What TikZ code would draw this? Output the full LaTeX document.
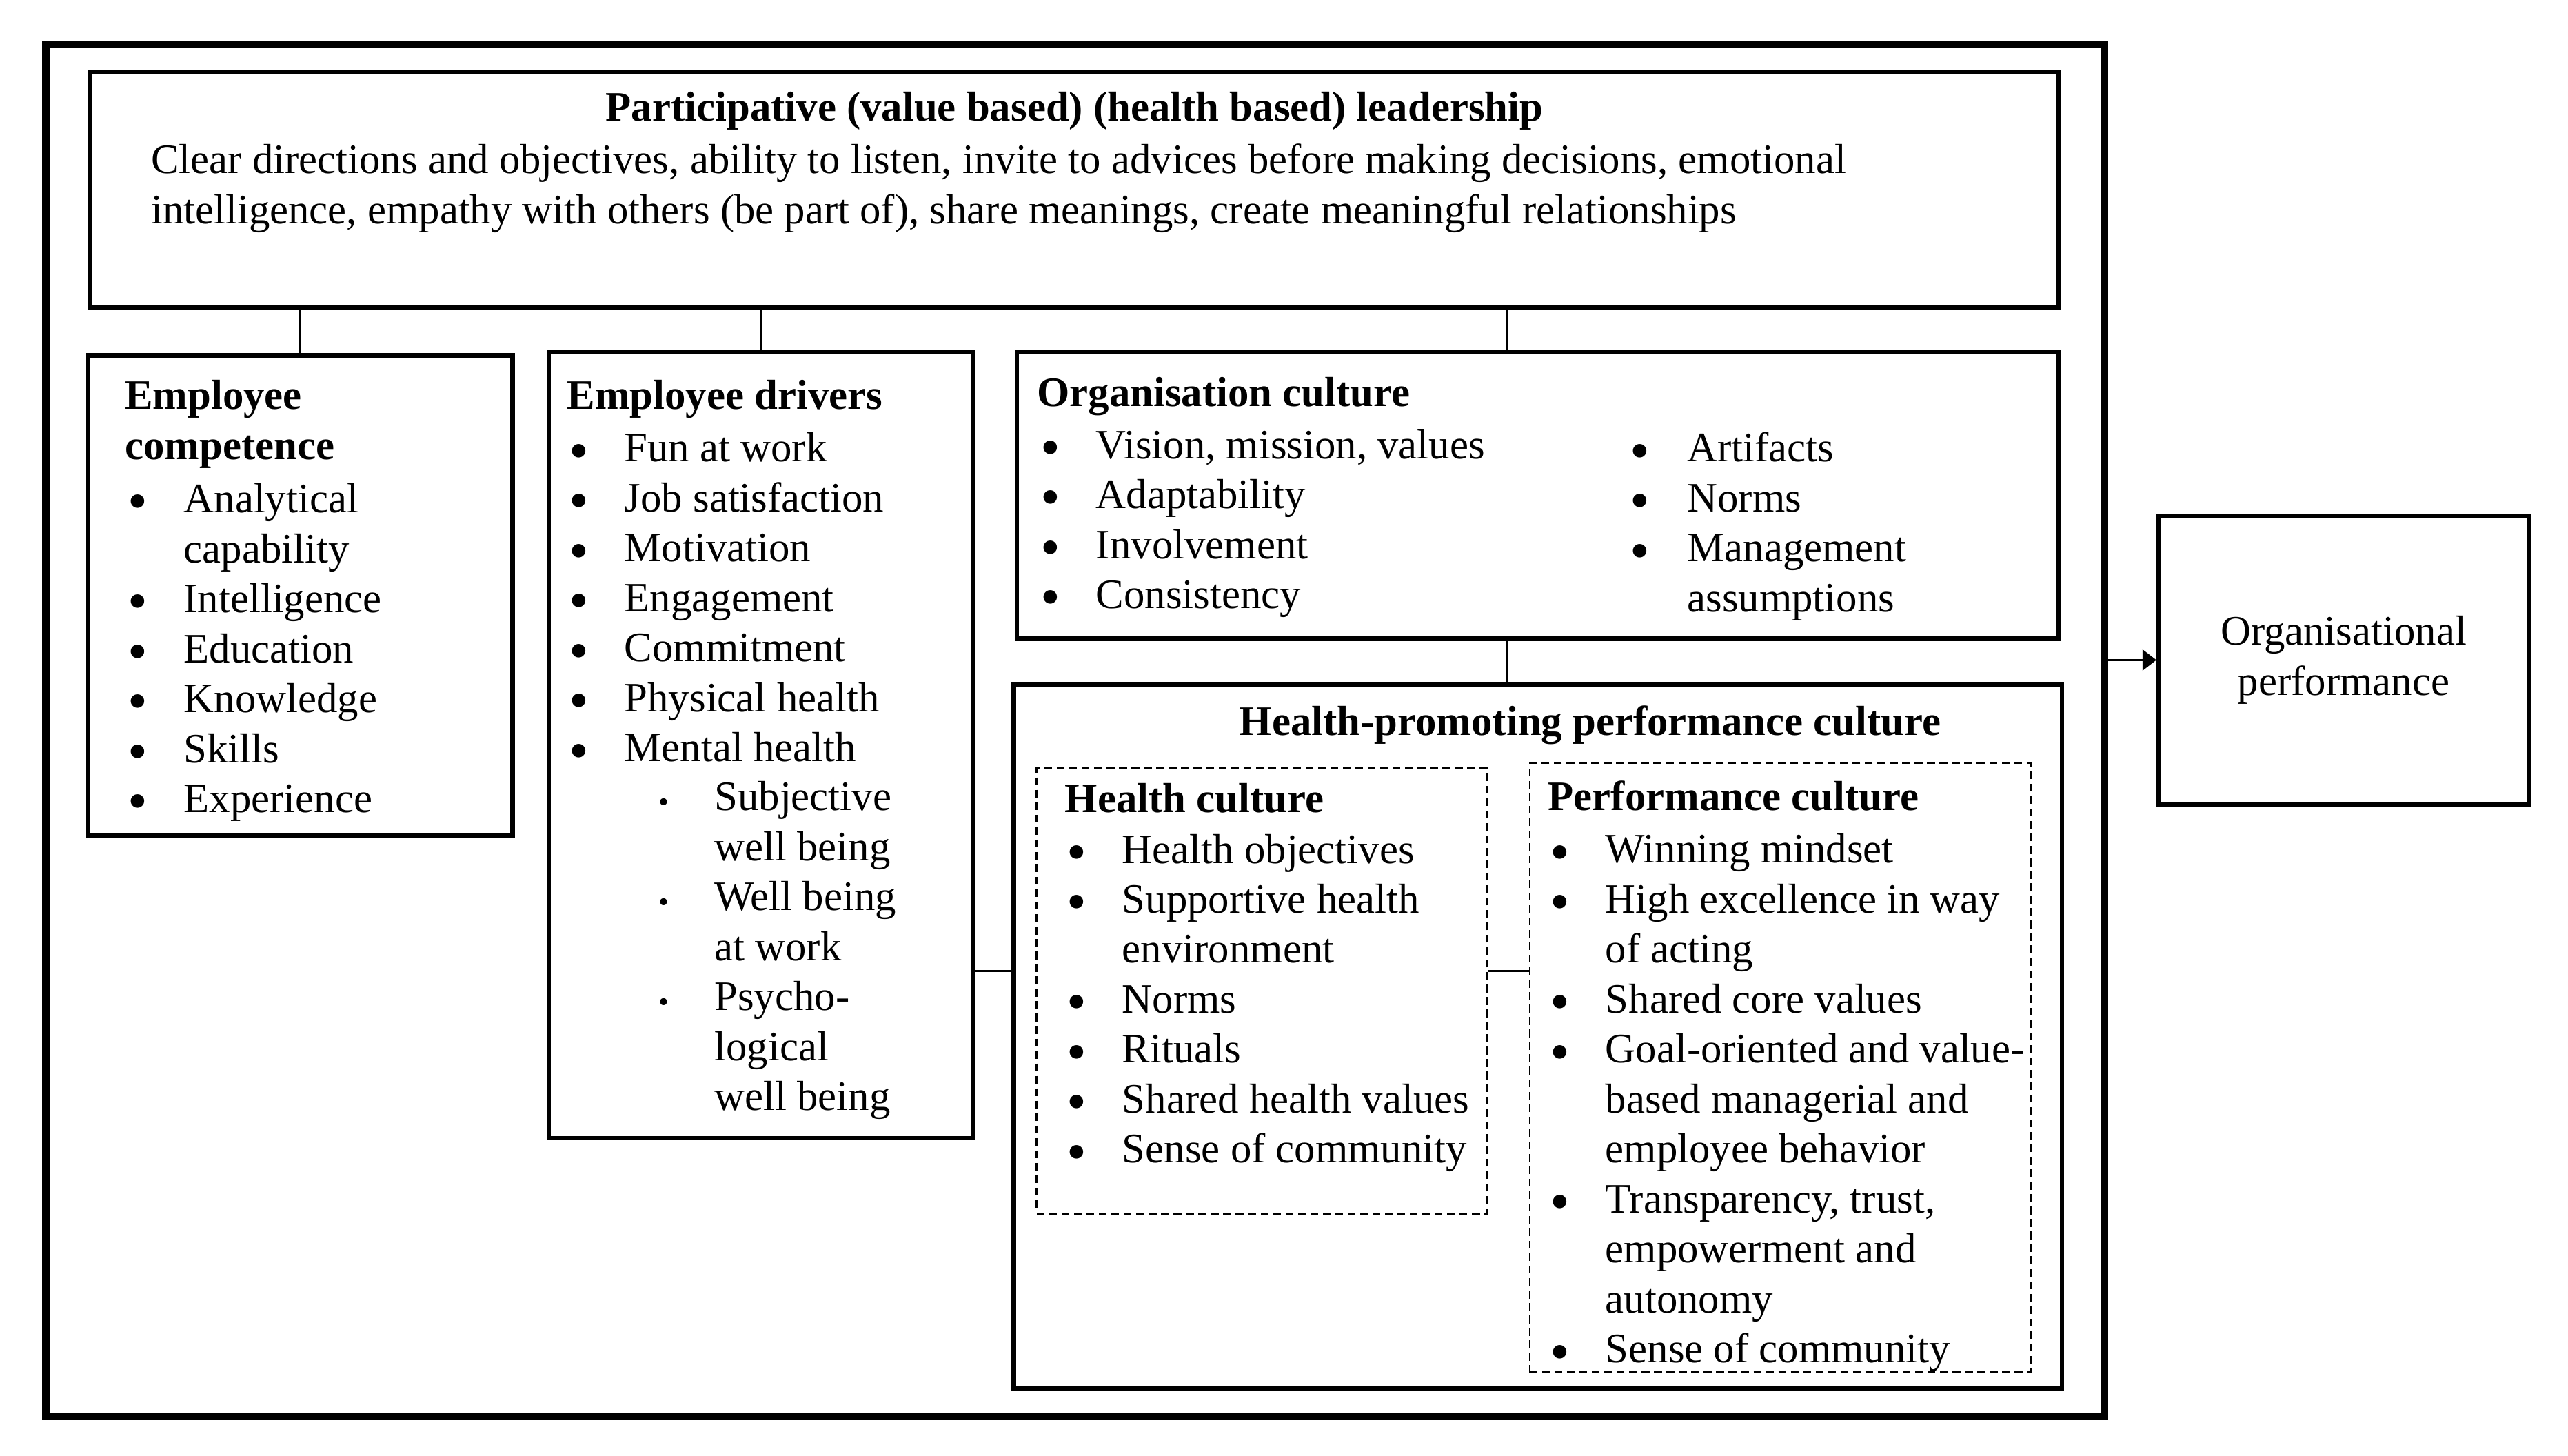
\documentclass[tikz,border=0pt]{standalone}
\usepackage{fontspec}
\setmainfont{Liberation Serif}
\usepackage{graphicx}
\usetikzlibrary{fit,arrows.meta}
\newcommand\bl{\raisebox{-3.4pt}{\scalebox{1.35}{\textbullet}}}
\newcommand\sbl{\raisebox{-0.4pt}{\scalebox{0.7}{\textbullet}}}
\tikzset{
  frame/.style={draw, line width=3.2pt, inner sep=0pt},
  box/.style={draw, line width=1.9pt, inner sep=0pt},
  dbox/.style={draw, line width=0.8pt, dash pattern=on 3.4pt off 2pt, inner sep=0pt},
  link/.style={line width=0.9pt},
  % the given point is the baseline of the last line
  txt/.style={inner sep=0pt, align=left, anchor=base west, font=\fontsize{18.2}{21.7}\selectfont},
  head/.style={txt, font=\fontsize{18.2}{21.7}\selectfont\bfseries},
}
\begin{document}
\begin{tikzpicture}[x=0.025cm, y=-0.025cm]
  \useasboundingbox (0,0) rectangle (1568,889);
  % boxes
  \node[frame, fit={(28,27) (1285,865)}] (frame) {};
  \node[box, fit={(55,44) (1257,188)}] (lead) {};
  \node[box, fit={(54,217) (313,510)}] (comp) {};
  \node[box, fit={(335,215) (594,695)}] (drv) {};
  \node[box, fit={(621,215) (1257,390)}] (orgc) {};
  \node[box, fit={(619,418) (1259,848)}] (hppc) {};
  \node[dbox, fit={(633,469) (908,741)}] (hc) {};
  \node[dbox, fit={(934,466) (1240,838)}] (pc) {};
  \node[box, fit={(1318,315) (1544,491)}] (op) {};
  \node[txt, anchor=base, align=center] (op-t) at (1431,424.5) {Organisational\\performance};

  % leadership
  \node[head, anchor=base] (lead-h) at (656,74) {Participative (value based) (health based) leadership};
  \node[txt] (lead-t) at (92,136.5) {Clear directions and objectives, ability to listen, invite to advices before making decisions, emotional\\intelligence, empathy with others (be part of), share meanings, create meaningful relationships};

  % employee competence
  \node[head] (comp-h) at (76,280.5) {Employee\\competence};
  \node[txt] (comp-b) at (78,496.1) {\bl\\\mbox{}\\\bl\\\bl\\\bl\\\bl\\\bl};
  \node[txt] (comp-t) at (112,496.1) {Analytical\\capability\\Intelligence\\Education\\Knowledge\\Skills\\Experience};

  % employee drivers
  \node[head] (drv-h) at (346,250) {Employee drivers};
  \node[txt] (drv-b) at (347,465.1) {\bl\\\bl\\\bl\\\bl\\\bl\\\bl\\\bl};
  \node[txt] (drv-t) at (381,465.1) {Fun at work\\Job satisfaction\\Motivation\\Engagement\\Commitment\\Physical health\\Mental health};
  \node[txt] (drv-sb) at (402,678.1) {\sbl\\\mbox{}\\\sbl\\\mbox{}\\\sbl\\\mbox{}\\\mbox{}};
  \node[txt] (drv-st) at (436,678.1) {Subjective\\well being\\Well being\\at work\\Psycho-\\logical\\well being};

  % organisation culture
  \node[head] (orgc-h) at (633,248) {Organisation culture};
  \node[txt] (orgc-b1) at (635,371.5) {\bl\\\bl\\\bl\\\bl};
  \node[txt] (orgc-t1) at (669,371.5) {Vision, mission, values\\Adaptability\\Involvement\\Consistency};
  \node[txt] (orgc-b2) at (995,373.5) {\bl\\\bl\\\bl\\\mbox{}};
  \node[txt] (orgc-t2) at (1030,373.5) {Artifacts\\Norms\\Management\\assumptions};

  % health-promoting performance culture
  \node[head, anchor=base] (hppc-h) at (971,449) {Health-promoting performance culture};
  \node[head] (hc-h) at (650,496) {Health culture};
  \node[txt] (hc-b) at (651,710.1) {\bl\\\bl\\\mbox{}\\\bl\\\bl\\\bl\\\bl};
  \node[txt] (hc-t) at (685,710.1) {Health objectives\\Supportive health\\environment\\Norms\\Rituals\\Shared health values\\Sense of community};
  \node[head] (pc-h) at (945,495) {Performance culture};
  \node[txt] (pc-b) at (946,832.1) {\bl\\\bl\\\mbox{}\\\bl\\\bl\\\mbox{}\\\mbox{}\\\bl\\\mbox{}\\\mbox{}\\\bl};
  \node[txt] (pc-t) at (980,832.1) {Winning mindset\\High excellence in way\\of acting\\Shared core values\\Goal-oriented and value-\\based managerial and\\employee behavior\\Transparency, trust,\\empowerment and\\autonomy\\Sense of community};

  % connectors
  \coordinate (oc-link) at (920,0);
  \coordinate (mid-link) at (0,593);
  \draw[link] (comp.north) -- (comp.north |- lead.south);
  \draw[link] (drv.north) -- (drv.north |- lead.south);
  \draw[link] (lead.south -| oc-link) -- (orgc.north -| oc-link);
  \draw[link] (orgc.south -| oc-link) -- (hppc.north -| oc-link);
  \draw[link] (drv.east |- mid-link) -- (hppc.west |- mid-link);
  \draw[link] (hc.east |- mid-link) -- (pc.west |- mid-link);
  \draw[link, -{Triangle[length=6pt, width=9pt]}] (frame.east |- op.west) -- (op.west);
\end{tikzpicture}
\end{document}
